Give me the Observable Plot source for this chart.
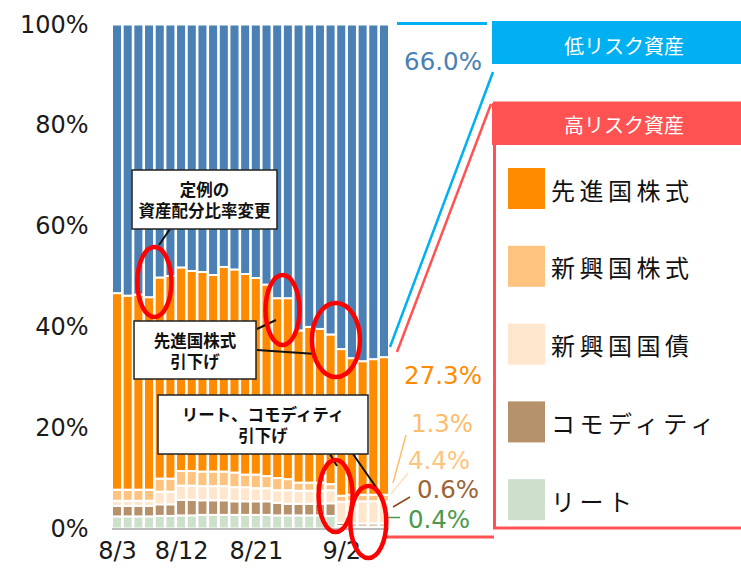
<!DOCTYPE html>
<html><head><meta charset="utf-8">
<script src="https://cdn.jsdelivr.net/npm/d3@7"></script>
<script src="https://cdn.jsdelivr.net/npm/@observablehq/plot@0.6"></script>
<style>
html,body{margin:0;padding:0;background:#fff;}
#chart{width:741px;height:577px;overflow:hidden;}
</style>
</head><body><div id="chart"></div>
<script>
// ---- data ----
const dates = ["8/3","8/4","8/5","8/6","8/7","8/11","8/12","8/13","8/14","8/17","8/18","8/19","8/20","8/21","8/24","8/25","8/26","8/27","8/28","8/31","9/1","9/2","9/3","9/4","9/7","9/8"];
const xTickLabels = ["8/3","8/12","8/21","9/2"];
const yTicks = [0,20,40,60,80,100];
const seriesNames = ["リート","コモディティ","新興国国債","新興国株式","先進国株式","低リスク資産"];
const seriesColors = ["#cde0cc","#b5916c","#ffe6cc","#fec47f","#ff8c00","#4a80b3"];
const reit      = [2.4,2.4,2.4,2.4,2.5,2.5,2.6,2.6,2.7,2.7,2.7,2.7,2.7,2.7,2.7,2.6,2.6,2.6,2.6,2.6,2.5,0.5,0.4,0.4,0.4,0.4];
const commodity = [2.1,2.1,2.1,2.1,2.3,2.3,3.1,3.1,2.9,2.9,2.9,2.7,2.7,2.7,2.7,2.5,2.3,2.3,2.3,2.3,2.5,0.6,0.6,0.6,0.6,0.6];
const emBond    = [1.0,1.0,1.0,1.0,2.5,2.5,2.8,2.8,2.8,2.8,2.8,2.8,2.8,2.6,2.6,2.5,2.7,2.6,2.6,2.6,2.6,4.2,4.4,4.4,4.4,4.4];
const emEquity  = [2.2,2.2,2.2,2.2,2.6,2.6,2.9,2.9,2.9,2.9,2.9,2.9,2.5,2.7,2.4,2.4,2.2,1.6,1.6,1.6,1.2,1.2,1.3,1.3,1.3,1.3];
const dmEquity  = [39.0,38.5,38.7,38.2,39.9,40.2,40.4,39.7,39.6,39.0,40.6,40.3,39.8,39.0,38.0,35.7,35.9,30.2,30.9,30.5,29.7,29.1,27.1,26.5,26.9,27.3];
const lowRisk   = [53.3,53.8,53.6,54.1,50.2,49.9,48.2,48.9,49.1,49.7,48.1,48.6,49.5,50.3,51.6,54.3,54.3,60.7,60.0,60.4,61.5,64.4,66.2,66.8,66.4,66.0];
const seriesValues = [reit, commodity, emBond, emEquity, dmEquity, lowRisk];
const endLabels = ["0.4%","0.6%","4.4%","1.3%","27.3%","66.0%"];

const rows = [];
seriesNames.forEach((s, k) => dates.forEach((d, i) => rows.push({date: d, series: s, value: seriesValues[k][i]})));

const FONT = "'Noto Sans CJK JP','Noto Sans',sans-serif";
const NUMFONT = "'DejaVu Sans',sans-serif";

const plot = Plot.plot({
  width: 741, height: 577,
  marginLeft: 112, marginRight: 352, marginTop: 24.5, marginBottom: 48.5,
  x: {domain: dates, paddingInner: 0.06, paddingOuter: 0, round: false, axis: null},
  y: {domain: [0, 100], axis: null},
  color: {domain: seriesNames, range: seriesColors},
  style: {fontFamily: NUMFONT, background: "white", overflow: "visible"},
  marks: [
    Plot.barY(rows, {x: "date", y: "value", fill: "series", stroke: "white", strokeWidth: 2, order: null}),
    Plot.ruleY([0], {stroke: "#a6a6a6", strokeWidth: 1.5}),
    Plot.axisY({ticks: yTicks, tickFormat: d => d + "%", tickSize: 0, tickPadding: 24, fontSize: 24, fill: "#1a1a1a", label: null}),
    Plot.axisX({ticks: xTickLabels, tickSize: 0, tickPadding: 13, fontSize: 24, fill: "#1a1a1a", label: null, letterSpacing: 1.5})
  ]
});
document.getElementById("chart").appendChild(plot);

// ---- annotations & legend (d3 overlay) ----
const svg = d3.select(plot);
const xs = plot.scale("x");
const bw = xs.bandwidth;
const cx = i => xs.apply(dates[i]) + bw / 2;
const g = svg.append("g").attr("font-family", FONT).attr("text-anchor", "start");

// right-side legend
g.append("rect").attr("x", 492).attr("y", 21).attr("width", 260).attr("height", 43).attr("fill", "#00b0f0");
g.append("text").attr("x", 624).attr("y", 45).attr("text-anchor", "middle").attr("dominant-baseline", "central")
  .attr("fill", "white").attr("font-size", 20).text("低リスク資産");
g.append("rect").attr("x", 494.5).attr("y", 103).attr("width", 260).attr("height", 425)
  .attr("fill", "none").attr("stroke", "#ff5353").attr("stroke-width", 3);
g.append("rect").attr("x", 492).attr("y", 103).attr("width", 260).attr("height", 42).attr("fill", "#ff5353");
g.append("text").attr("x", 624).attr("y", 124).attr("text-anchor", "middle").attr("dominant-baseline", "central")
  .attr("fill", "white").attr("font-size", 20).text("高リスク資産");

const legendOrder = [4, 3, 2, 1, 0];
legendOrder.forEach((k, j) => {
  const y0 = 168 + j * 77.8;
  g.append("rect").attr("x", 508).attr("y", y0).attr("width", 37).attr("height", 41).attr("fill", seriesColors[k]);
  g.append("text").attr("x", 551).attr("y", y0 + 21).attr("text-anchor", "start").attr("dominant-baseline", "central")
    .attr("font-size", 24).attr("letter-spacing", 4.5).attr("fill", "#111").text(seriesNames[k]);
});

// brackets / connecting lines
g.append("line").attr("x1", 397).attr("y1", 23.5).attr("x2", 487).attr("y2", 23.5).attr("stroke", "#00b0f0").attr("stroke-width", 3);
g.append("line").attr("x1", 493).attr("y1", 72).attr("x2", 390).attr("y2", 347).attr("stroke", "#00b0f0").attr("stroke-width", 2.5);
g.append("line").attr("x1", 491).attr("y1", 104).attr("x2", 397).attr("y2", 352).attr("stroke", "#ff5353").attr("stroke-width", 2.5);
g.append("line").attr("x1", 383).attr("y1", 537).attr("x2", 494).attr("y2", 537).attr("stroke", "#ff5353").attr("stroke-width", 3);

// end value labels
const labelSpecs = [
  {k: 5, x: 443, y: 61, color: "#4a80b3"},
  {k: 4, x: 443, y: 375, color: "#ff8c00"},
  {k: 3, x: 442, y: 423, color: "#fdbd6c"},
  {k: 2, x: 439, y: 460, color: "#fec57e"},
  {k: 1, x: 448, y: 489, color: "#9b6535"},
  {k: 0, x: 439, y: 519, color: "#4c994c"}
];
labelSpecs.forEach(s => {
  g.append("text").attr("x", s.x).attr("y", s.y).attr("text-anchor", "middle").attr("dominant-baseline", "central")
    .attr("font-family", NUMFONT).attr("font-size", 24.5).attr("fill", s.color).text(endLabels[s.k]);
});
const leaders = [
  [393, 483, 406, 435, "#fdbd6c"],
  [391, 494, 408, 473, "#ffe0bd"],
  [393, 507, 410, 497, "#8b4a1a"],
  [388, 517.5, 400, 517.5, "#4c994c"]
];
leaders.forEach(l => g.append("line").attr("x1", l[0]).attr("y1", l[1]).attr("x2", l[2]).attr("y2", l[3]).attr("stroke", l[4]).attr("stroke-width", 1.5));

// callout boxes
function box(x, y, w, h, lines) {
  g.append("rect").attr("x", x).attr("y", y).attr("width", w).attr("height", h)
    .attr("fill", "white").attr("stroke", "#222").attr("stroke-width", 1.5);
  lines.forEach((t, i) => {
    g.append("text").attr("x", x + w / 2).attr("y", y + h / 2 + (i - (lines.length - 1) / 2) * 21)
      .attr("text-anchor", "middle").attr("dominant-baseline", "central")
      .attr("font-size", 16.5).attr("font-weight", "bold").attr("fill", "#111").text(t);
  });
}
function line(x1, y1, x2, y2) {
  g.append("line").attr("x1", x1).attr("y1", y1).attr("x2", x2).attr("y2", y2).attr("stroke", "#111").attr("stroke-width", 2);
}
function ell(x, y, rx, ry) {
  g.append("ellipse").attr("cx", x).attr("cy", y).attr("rx", rx).attr("ry", ry)
    .attr("fill", "none").attr("stroke", "#ff0000").attr("stroke-width", 4.5);
}
line(170, 229, 159, 245);
line(257, 329, 276, 320);
line(257, 350, 316, 354);
line(330, 454, 337, 466);
line(353, 454, 378, 490);

ell((cx(3) + cx(4)) / 2, 282, 17, 35);
ell((cx(15) + cx(16)) / 2, 310, 17, 35);
ell((cx(20) + cx(21)) / 2, 340, 24, 37);
ell(cx(20) + 5, 496, 17, 36);
ell(cx(24) - 5, 522, 18, 36);

box(132, 170, 145, 59, ["定例の", "資産配分比率変更"]);
box(134, 321, 122, 58, ["先進国株式", "引下げ"]);
box(158, 395, 210, 59, ["リート、コモディティ", "引下げ"]);
</script>
</body></html>
